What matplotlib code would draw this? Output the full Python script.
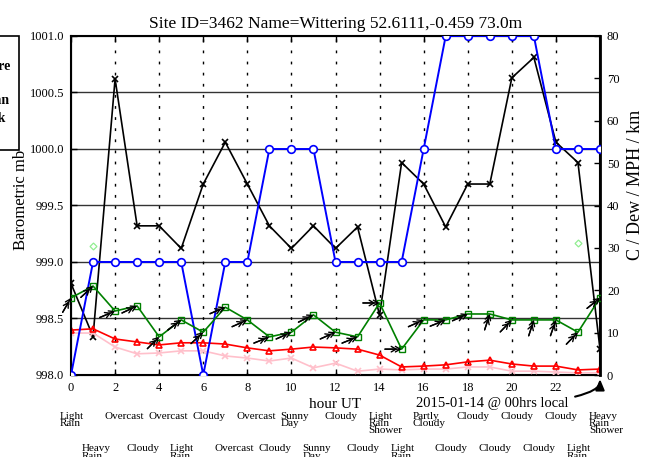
import numpy as np
import matplotlib.pyplot as plt
from matplotlib.patches import Rectangle

plt.rcParams['font.family'] = ['Liberation Serif', 'DejaVu Serif']
plt.rcParams['xtick.direction'] = 'in'
plt.rcParams['ytick.direction'] = 'in'

hours = np.arange(25)

# barometric pressure, mb (left axis)
pressure = [998.81, 998.34, 1000.62, 999.32, 999.32, 999.12, 999.69, 1000.06, 999.69,
            999.32, 999.12, 999.32, 999.12, 999.31, 998.53, 999.88, 999.69, 999.31,
            999.69, 999.69, 1000.63, 1000.81, 1000.06, 999.88, 998.23]

# right axis series
visibility = [0, 26.67, 26.67, 26.67, 26.67, 26.67, 0, 26.67, 26.67, 53.33, 53.33, 53.33,
              26.67, 26.67, 26.67, 26.67, 53.33, 80, 80, 80, 80, 80, 53.33, 53.33, 53.33]
wind_speed = [18.2, 21.0, 15.1, 16.3, 9.0, 13.0, 10.1, 16.0, 13.0, 9.0, 10.1, 14.2, 10.1,
              9.0, 17.0, 6.1, 13.0, 13.0, 14.4, 14.4, 13.0, 13.0, 13.0, 10.1, 18.2]
temperature = [10.6, 10.9, 8.5, 7.8, 7.1, 7.6, 7.6, 7.3, 6.4, 5.7, 6.1, 6.6, 6.4, 6.1,
               4.7, 1.9, 2.1, 2.4, 3.1, 3.5, 2.6, 2.1, 2.1, 1.2, 1.4]
dew_point = [9.9, 9.9, 6.6, 5.0, 5.2, 5.7, 5.7, 4.5, 4.0, 3.3, 4.0, 1.7, 2.8, 0.9, 1.4,
             1.2, 1.4, 1.4, 1.9, 1.9, 0.9, 0.9, 0.7, 0.5, 0.5]
gust_hours = [1, 23]
gusts = [30.4, 31.2]

# wind direction (degrees, blowing from)
wind_dir = [210, 227, 247, 245, 225, 233, 227, 247, 246, 248, 246, 244, 246, 248,
            270, 270, 246, 248, 246, 198, 224, 198, 199, 224, 231]

weather = ['Light\nRain', 'Heavy\nRain', 'Overcast', 'Cloudy', 'Overcast', 'Light\nRain',
           'Cloudy', 'Overcast', 'Overcast', 'Cloudy', 'Sunny\nDay', 'Sunny\nDay',
           'Cloudy', 'Cloudy', 'Light\nRain\nShower', 'Light\nRain', 'Partly\nCloudy',
           'Cloudy', 'Cloudy', 'Cloudy', 'Cloudy', 'Cloudy', 'Cloudy', 'Light\nRain',
           'Heavy\nRain\nShower']

fig = plt.figure(figsize=(6.51, 4.57), dpi=100)
ax = fig.add_axes([71 / 651, 1 - 375 / 457, 529 / 651, 339 / 457])

ax.set_xlim(0, 24)
ax.set_ylim(998.0, 1001.0)
ax.set_yticks(np.arange(998.0, 1001.01, 0.5))
ax.set_yticklabels(['%.1f' % v for v in np.arange(998.0, 1001.01, 0.5)])
ax.set_xticks(np.arange(0, 24, 2))
ax.tick_params(labelsize=9, length=4, width=1, top=True, pad=5)
for v in np.arange(998.5, 1001.0, 0.5):
    ax.axhline(v, color='#333333', lw=1.0, zorder=1)
for h in range(2, 24, 2):
    ax.axvline(h, color='black', lw=1.0, ls=(0, (2, 6)), zorder=1)

ax.plot(hours, pressure, '-x', color='black', lw=1.2, ms=5, mew=1.2, zorder=3)
ax.set_ylabel('Barometric mb', fontsize=12)
ax.yaxis.set_label_coords(-0.08, 0.516)
ax.set_xlabel('hour UT', fontsize=11, labelpad=2)
ax.xaxis.set_label_coords(0.5, -0.068)

ax2 = ax.twinx()
ax2.set_ylim(0, 80)
ax2.set_yticks(np.arange(0, 81, 10))
ax2.tick_params(labelsize=9, length=4, width=1, pad=5)
ax2.set_ylabel('C / Dew / MPH / km', fontsize=13)
ax2.yaxis.set_label_coords(1.051, 0.56)

ax2.plot(hours, dew_point, '-x', color='pink', lw=1.2, ms=5, mew=1.2)
ax2.plot(hours, temperature, '-^', color='red', lw=1.2, ms=4.5, mew=1.2, mfc='none')
ax2.plot(hours, visibility, '-o', color='blue', lw=1.4, ms=5.5, mew=1.2, mfc='white', zorder=4)
ax2.plot(hours, wind_speed, '-s', color='green', lw=1.2, ms=5, mew=1.0, mfc='none', zorder=5)
ax2.plot(gust_hours, gusts, 'D', color='lightgreen', ms=3.5, mew=0.9, mfc='none', ls='none')

# wind arrows pointing into each wind speed point
L = 12.0
for h, v, d in zip(hours, wind_speed, wind_dir):
    a = np.deg2rad(-90 - d)
    off = (-L * np.cos(a), -L * np.sin(a))
    for sb in (0, 3):
        ax2.annotate('', xy=(h, v), xytext=off, textcoords='offset points',
                     arrowprops=dict(arrowstyle='->,head_length=0.35,head_width=0.2',
                                     color='black', lw=1.0, shrinkA=0, shrinkB=sb),
                     zorder=6)

for side in ['left', 'right', 'top', 'bottom']:
    ax.spines[side].set_linewidth(1.5)
ax2.spines['right'].set_linewidth(2)

ax.set_title('Site ID=3462 Name=Wittering 52.6111,-0.459 73.0m', fontsize=12.5, pad=6)

# weather descriptions under the axis
for h, w in zip(hours, weather):
    y = -0.108 if h % 2 == 0 else -0.205
    ax.text(h - 0.5, y, w, transform=ax.get_xaxis_transform(), fontsize=8,
            ha='left', va='top', linespacing=0.72)

ax.annotate('2015-01-14 @ 00hrs local', xy=(1.0, -0.012), xycoords='axes fraction',
            xytext=(0.94, -0.083), textcoords='axes fraction', fontsize=10.5,
            ha='right', va='center',
            arrowprops=dict(arrowstyle='-|>,head_length=0.6,head_width=0.25', color='black',
                            lw=1.5, shrinkA=3, shrinkB=0,
                            connectionstyle='angle3,angleA=0,angleB=90'))

# legend box cut at the left edge
fig.patches.append(Rectangle((-0.1, 1 - 150 / 457), 0.1 + 19 / 651, 114 / 457,
                             transform=fig.transFigure, fill=False, ec='black', lw=1.2))
for t, yp, xp in [('Pressure', 66, 11), ('Mean', 100, 10), ('Peak', 118, 6)]:
    fig.text(xp / 651, 1 - yp / 457, t, fontsize=10, fontweight='bold', ha='right', va='center')

fig.savefig('out.png', dpi=100)
